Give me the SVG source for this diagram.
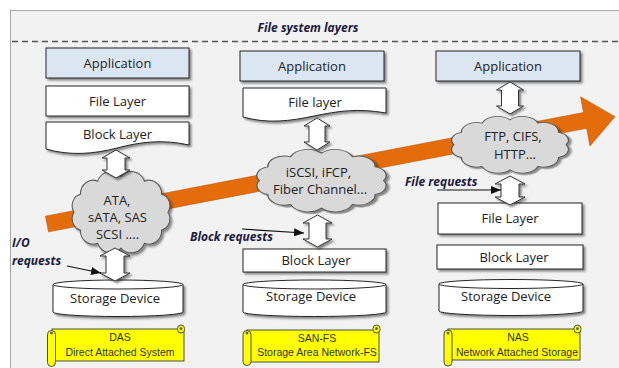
<svg xmlns="http://www.w3.org/2000/svg" width="619" height="368" viewBox="0 0 619 368">
<style>
.box{stroke:#262626;stroke-width:1;filter:url(#sh)}
.app{fill:#dce6f2}
.wht{fill:#ffffff}
.lbl{font-family:"Open Sans","Noto Sans",sans-serif;font-size:13px;fill:#222;text-anchor:middle}
.cloud{fill:#d9d9d9;stroke:#595959;stroke-width:1;filter:url(#sh)}
.dbl{fill:#ffffff;stroke:#333;stroke-width:1;filter:url(#sh)}
.req{stroke:#111;stroke-width:1.2;fill:none;marker-end:url(#ah)}
.bi{font-family:"Open Sans","Noto Sans",sans-serif;font-size:12px;font-weight:bold;font-style:italic;fill:#1c1c3a}
.scr{fill:#ffff00;stroke:#4d4d4d;stroke-width:1}
.st{font-family:"Liberation Sans",Arial,sans-serif;font-size:10.5px;fill:#333;text-anchor:middle}
</style>
<defs>
<filter id="sh" x="-10%" y="-10%" width="130%" height="140%">
<feDropShadow dx="2" dy="2" stdDeviation="0.8" flood-color="#000" flood-opacity="0.45"/>
</filter>
<marker id="ah" viewBox="0 0 10 8" refX="10" refY="4" markerWidth="10" markerHeight="8" markerUnits="userSpaceOnUse" orient="auto">
<path d="M0,0 L10,4 L0,8 Z" fill="#111"/>
</marker>
<path id="cl" d="M96,35 A10.3,10.3 0 0 1 89.8,51 A12.3,12.3 0 0 1 73,62.7 A14,14 0 0 1 50,67 A14,14 0 0 1 27,62.7 A12.3,12.3 0 0 1 10.2,51 A10.3,10.3 0 0 1 4,35 A10.3,10.3 0 0 1 10.2,19 A12.3,12.3 0 0 1 27,7.3 A14,14 0 0 1 50,3 A14,14 0 0 1 73,7.3 A12.3,12.3 0 0 1 89.8,19 A10.3,10.3 0 0 1 96,35 Z"/>
</defs>

<rect x="0" y="0" width="619" height="368" fill="#ffffff"/>
<rect x="10.5" y="10.5" width="620" height="370" fill="#f2f2f2" stroke="#a6a6a6" stroke-width="1"/>
<text x="308" y="32" text-anchor="middle" class="bi" font-size="12.5">File system layers</text>
<line x1="12" y1="41.5" x2="619" y2="41.5" stroke="#555" stroke-width="1.6" stroke-dasharray="6,4"/>

<g id="flow" transform="translate(47,224) rotate(-10.9)">
<path d="M0,-8 L548,-8 L548,-24 L578,2 L548,26 L548,8 L0,8 Z" fill="#e46c0a" stroke="#c45a08" stroke-width="0.6"/>
</g>

<!-- Column 1: DAS -->
<g id="das-app"><rect class="box app" x="46" y="48" width="143" height="30"/><text class="lbl" x="117.5" y="68">Application</text></g>
<g id="das-file"><rect class="box wht" x="46" y="86" width="143" height="30"/><text class="lbl" x="117.5" y="106">File Layer</text></g>
<g id="das-block"><path class="box wht" d="M46,122 H189 V145 C162,139 140,142 117,148 S70,156 46,149 Z"/><text class="lbl" x="117.5" y="139">Block Layer</text></g>
<g id="das-cloud"><use href="#cl" class="cloud" vector-effect="non-scaling-stroke" transform="translate(70,173) scale(1.02,1.12)"/><text class="lbl" x="117" y="205">ATA,</text><text class="lbl" x="117.5" y="222">sATA, SAS</text><text class="lbl" x="117.5" y="239">SCSI ....</text></g>
<g id="das-storage"><path class="box wht" d="M53,284.5 V312 A65,4.5 0 0 0 183,312 V284.5 Z"/><ellipse cx="118" cy="284.5" rx="65" ry="4.5" fill="#fff" stroke="#262626"/><text class="lbl" x="115" y="303">Storage Device</text></g>
<g id="das-label"><rect class="scr" x="52" y="329" width="132" height="32"/><rect class="scr" x="47.5" y="330.5" width="8" height="36" rx="4"/><rect class="scr" x="177.5" y="325" width="7" height="8" rx="3.5"/><circle cx="51.5" cy="333" r="1.5" fill="#666"/><circle cx="181" cy="328.5" r="1.5" fill="#666"/><text class="st" x="120" y="341">DAS</text><text class="st" x="120" y="356">Direct Attached System</text></g>

<!-- Column 2: SAN-FS -->
<g id="san-app"><rect class="box app" x="240" y="51" width="144" height="30"/><text class="lbl" x="312" y="71">Application</text></g>
<g id="san-file"><path class="box wht" d="M243,88 H386 V113 C358,108 338,111 314,116 S268,124 243,117 Z"/><text class="lbl" x="315" y="107">File layer</text></g>
<g id="san-cloud"><use href="#cl" class="cloud" vector-effect="non-scaling-stroke" transform="translate(254,150.5) scale(1.35,0.86)"/><text class="lbl" x="318.5" y="177">iSCSI, iFCP,</text><text class="lbl" x="320" y="194">Fiber Channel...</text></g>
<g id="san-block"><rect class="box wht" x="243" y="249" width="143" height="23"/><text class="lbl" x="316" y="265">Block Layer</text></g>
<g id="san-storage"><path class="box wht" d="M243,284.5 V312 A71.5,4.5 0 0 0 386,312 V284.5 Z"/><ellipse cx="314.5" cy="284.5" rx="71.5" ry="4.5" fill="#fff" stroke="#262626"/><text class="lbl" x="311" y="301">Storage Device</text></g>
<g id="san-label"><rect class="scr" x="247" y="330" width="132" height="32"/><rect class="scr" x="243" y="330.5" width="8" height="35" rx="4"/><rect class="scr" x="373" y="325" width="7" height="8" rx="3.5"/><circle cx="247" cy="333" r="1.5" fill="#666"/><circle cx="376.5" cy="328.5" r="1.5" fill="#666"/><text class="st" x="317" y="342">SAN-FS</text><text class="st" x="317" y="356">Storage Area Network-FS</text></g>

<!-- Column 3: NAS -->
<g id="nas-app"><rect class="box app" x="436" y="51" width="144" height="30"/><text class="lbl" x="508" y="71">Application</text></g>
<g id="nas-cloud"><use href="#cl" class="cloud" vector-effect="non-scaling-stroke" transform="translate(449,117.5) scale(1.22,0.78)"/><text class="lbl" x="513" y="141">FTP, CIFS,</text><text class="lbl" x="515" y="159">HTTP...</text></g>
<g id="nas-file"><rect class="box wht" x="438" y="203" width="144" height="31"/><text class="lbl" x="510" y="223">File Layer</text></g>
<g id="nas-block"><rect class="box wht" x="437" y="245" width="146" height="24"/><text class="lbl" x="514" y="262">Block Layer</text></g>
<g id="nas-storage"><path class="box wht" d="M439,284 V311 A72,4.5 0 0 0 583,311 V284 Z"/><ellipse cx="511" cy="284" rx="72" ry="4.5" fill="#fff" stroke="#262626"/><text class="lbl" x="506" y="301">Storage Device</text></g>
<g id="nas-label"><rect class="scr" x="448" y="329" width="132" height="31"/><rect class="scr" x="444" y="330" width="8" height="36" rx="4"/><rect class="scr" x="574" y="325" width="7" height="8" rx="3.5"/><circle cx="448" cy="333" r="1.5" fill="#666"/><circle cx="577.5" cy="328.5" r="1.5" fill="#666"/><text class="st" x="518" y="341">NAS</text><text class="st" x="517" y="356">Network Attached Storage</text></g>

<g id="connectors">
<path class="dbl" d="M116,150 L130,158 L125,158 L125,170 L130,170 L116,178 L102,170 L107,170 L107,158 L102,158 Z"/>
<path class="dbl" d="M115,248 L130,256 L124,256 L124,273 L130,273 L115,281 L100,273 L106,273 L106,256 L100,256 Z"/>
<path class="dbl" d="M317,118 L330,126 L325,126 L325,142 L330,142 L317,150 L304,142 L309,142 L309,126 L304,126 Z"/>
<path class="dbl" d="M317.5,215 L332,223 L326,223 L326,239 L332,239 L317.5,247 L303,239 L309,239 L309,223 L303,223 Z"/>
<path class="dbl" d="M510,82 L523.5,90 L518.5,90 L518.5,106 L523.5,106 L510,114 L496.5,106 L501.5,106 L501.5,90 L496.5,90 Z"/>
<path class="dbl" d="M510,176 L525,184 L519,184 L519,197 L525,197 L510,205 L495,197 L501,197 L501,184 L495,184 Z"/>
<line class="req" x1="67" y1="266" x2="101" y2="273"/>
<line class="req" x1="242" y1="229" x2="304" y2="233"/>
<line class="req" x1="437" y1="190" x2="501" y2="190"/>
</g>

<text class="bi" x="12" y="247" font-size="12.5">I/O</text>
<text class="bi" x="12" y="265" font-size="12.5">requests</text>
<text class="bi" x="190" y="241">Block requests</text>
<text class="bi" x="405" y="186" font-size="11.5">File requests</text>
</svg>
